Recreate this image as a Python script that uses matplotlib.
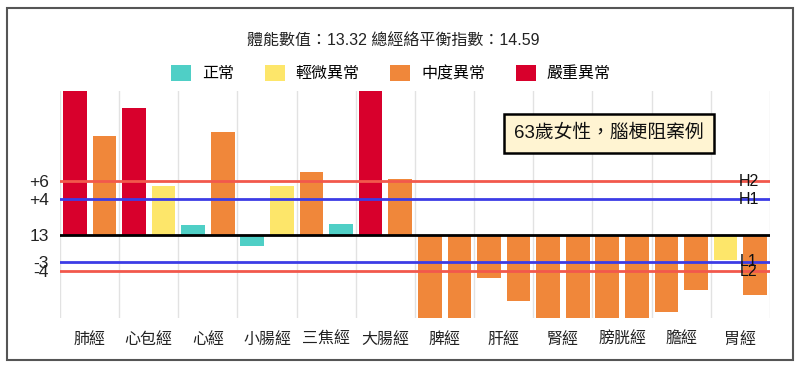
import numpy as np
import matplotlib as mpl
mpl.use("Agg")
import matplotlib.pyplot as plt
from matplotlib.patches import Patch, Rectangle

plt.rcParams['font.family'] = ['Liberation Sans', 'Noto Sans CJK TC', 'DejaVu Sans']

# meridians (two bars each: left / right side)
meridians = ['肺經', '心包經', '心經', '小腸經', '三焦經', '大腸經',
             '脾經', '肝經', '腎經', '膀胱經', '膽經', '胃經']
left_vals = [17.5, 14.1, 1.1, -1.2, 7.0, 17.5, -10.5, -4.8, -10.5, -10.5, -8.6, -2.8]
right_vals = [11.0, 5.4, 11.4, 5.4, 1.2, 6.2, -10.5, -7.3, -10.5, -10.5, -6.1, -6.7]
left_level = ['嚴重異常', '嚴重異常', '正常', '正常', '中度異常', '嚴重異常',
              '中度異常', '中度異常', '中度異常', '中度異常', '中度異常', '輕微異常']
right_level = ['中度異常', '輕微異常', '中度異常', '輕微異常', '正常', '中度異常',
               '中度異常', '中度異常', '中度異常', '中度異常', '中度異常', '中度異常']

levels = ['正常', '輕微異常', '中度異常', '嚴重異常']
level_colors = {'正常': '#4fcfc6', '輕微異常': '#fde66a',
                '中度異常': '#f0873a', '嚴重異常': '#d8002c'}

# reference lines
ref_vals = [6, 4, -3, -4]
ref_names = ['H2', 'H1', 'L1', 'L2']
ref_colors = ['#f2584c', '#3c3ce6', '#3c3ce6', '#f2584c']
ytick_vals = [6, 4, 0, -3, -4]
ytick_labels = ['+6', '+4', '13', '-3', '-4']

title = '體能數值：13.32 總經絡平衡指數：14.59'
note = '63歲女性，腦梗阻案例'

fig = plt.figure(figsize=(8, 3.69), dpi=100)
ax = fig.add_axes([60/800, 1-318/369, 710/800, (318-90.7)/369])

x = np.arange(len(meridians))
ax.bar(x - 0.25, left_vals, width=0.4,
       color=[level_colors[l] for l in left_level], zorder=2)
ax.bar(x + 0.25, right_vals, width=0.4,
       color=[level_colors[l] for l in right_level], zorder=2)

ax.set_xlim(-0.5, len(meridians) - 0.5)
ax.set_ylim(-83/9, 144.3/9)

# vertical category separators
for xv in np.arange(-0.5, len(meridians), 1.0):
    ax.axvline(xv, color='#e2e2e2', lw=1, zorder=0)

ax.axhline(0, color='black', lw=2, zorder=3)
for v, name, c in zip(ref_vals, ref_names, ref_colors):
    ax.axhline(v, color=c, lw=2, zorder=4)
    ax.text(11.14, v, name, ha='center', va='center', fontsize=11.5,
            color='#111111', zorder=5)

ax.set_xticks(x)
ax.set_xticklabels(meridians, fontsize=11.5, color='#222222')
ax.set_yticks(ytick_vals)
ax.set_yticklabels(ytick_labels, fontsize=12.5, color='#222222')
ax.tick_params(axis='both', length=0)
ax.tick_params(axis='x', pad=10)
ax.tick_params(axis='y', pad=8)
for s in ax.spines.values():
    s.set_visible(False)

ax.text(8.78, 11.28, note, ha='center', va='center', fontsize=13.5,
        color='#111111', zorder=6,
        bbox=dict(boxstyle='square,pad=0.55', fc='#fff4d2', ec='black', lw=1.8))

fig.text(393/800, 1-40/369, title, ha='center', va='center',
         fontsize=11.5, color='#222222')

handles = [Patch(facecolor=level_colors[l], edgecolor='none', label=l) for l in levels]
fig.legend(handles=handles, loc='center', bbox_to_anchor=(391/800, 1-73/369),
           ncol=4, frameon=False, fontsize=11.5, handlelength=1.25,
           handleheight=1.25, handletextpad=0.7, columnspacing=1.9)

fig.add_artist(Rectangle((7/800, 1-360/369), 786/800, 352/369,
                         transform=fig.transFigure, fill=False,
                         ec='#555555', lw=1.5))

fig.savefig('out.png', dpi=100)
